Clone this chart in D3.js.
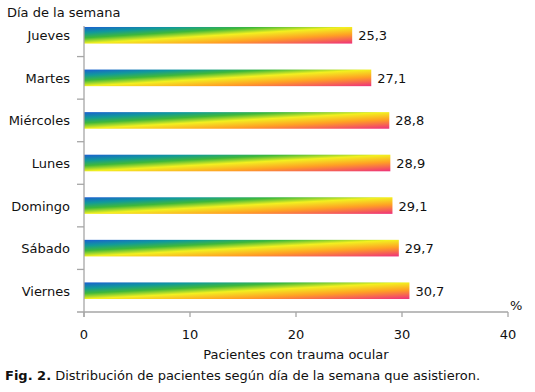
<!DOCTYPE html>
<html>
<head>
<meta charset="utf-8">
<script src="https://cdn.jsdelivr.net/npm/d3@7"></script>
<style>
  body { margin: 0; background: #fff; }
  text { font-family: "DejaVu Sans", Verdana, sans-serif; fill: #111; }
</style>
</head>
<body>
<div id="chart"></div>
<script>
// data
const dias = ["Jueves", "Martes", "Miércoles", "Lunes", "Domingo", "Sábado", "Viernes"];
const valores = [25.3, 27.1, 28.8, 28.9, 29.1, 29.7, 30.7];
const ticksX = [0, 10, 20, 30, 40];

const W = 535, H = 392;
const X0 = 84, X1 = 508, YTOP = 14, YBOT = 312;

const svg = d3.select("#chart").append("svg")
  .attr("width", W).attr("height", H);

// diagonal rainbow gradient, per bar
const grad = svg.append("defs").append("linearGradient")
  .attr("id", "arcoiris")
  .attr("x1", 0).attr("y1", 0).attr("x2", 1).attr("y2", 1);
[[0, "#1a5fd2"], [0.18, "#119a9a"], [0.33, "#3fb83a"], [0.5, "#f2f020"],
 [0.72, "#ffa024"], [1, "#ee2f7c"]].forEach(s => {
  grad.append("stop").attr("offset", s[0]).attr("stop-color", s[1]);
});

const x = d3.scaleLinear().domain([0, 40]).range([X0, X1]);
const y = d3.scaleBand().domain(dias).range([YTOP, YBOT]).paddingInner(0.61).paddingOuter(0.305);

const gris = "#a6a6a6";

// bars
svg.selectAll(".bar")
  .data(dias)
  .enter().append("rect")
  .attr("class", "bar")
  .attr("x", x(0))
  .attr("y", d => y(d))
  .attr("width", (d, i) => x(valores[i]) - x(0))
  .attr("height", y.bandwidth())
  .attr("fill", "url(#arcoiris)");

// value labels
svg.selectAll(".val")
  .data(dias)
  .enter().append("text")
  .attr("x", (d, i) => x(valores[i]) + 6)
  .attr("y", d => y(d) + y.bandwidth() / 2 + 5)
  .attr("font-size", 13)
  .text((d, i) => String(valores[i]).replace(".", ","));

// y axis line + ticks between categories
svg.append("line")
  .attr("x1", X0).attr("x2", X0).attr("y1", 26).attr("y2", YBOT + 5)
  .attr("stroke", gris).attr("stroke-width", 1.3);
const step = y.step();
const bordes = dias.slice(1).map(d => y(d) - (step - y.bandwidth()) / 2);
svg.selectAll(".ytick")
  .data(bordes)
  .enter().append("line")
  .attr("x1", X0 - 7).attr("x2", X0)
  .attr("y1", d => d).attr("y2", d => d)
  .attr("stroke", gris).attr("stroke-width", 1.3);
svg.selectAll(".ylab")
  .data(dias)
  .enter().append("text")
  .attr("x", 70)
  .attr("y", d => y(d) + y.bandwidth() / 2 + 5)
  .attr("text-anchor", "end")
  .attr("font-size", 13)
  .text(d => d);

// x axis
svg.append("line")
  .attr("x1", X0 - 7).attr("x2", X1).attr("y1", YBOT).attr("y2", YBOT)
  .attr("stroke", gris).attr("stroke-width", 1.3);
svg.selectAll(".xtick")
  .data(ticksX)
  .enter().append("line")
  .attr("x1", d => x(d)).attr("x2", d => x(d))
  .attr("y1", YBOT).attr("y2", YBOT + 5)
  .attr("stroke", gris).attr("stroke-width", 1.3);
svg.selectAll(".xlab")
  .data(ticksX)
  .enter().append("text")
  .attr("x", d => x(d))
  .attr("y", 339)
  .attr("text-anchor", "middle")
  .attr("font-size", 13)
  .text(d => d);

// titles
svg.append("text").attr("x", 7).attr("y", 17).attr("font-size", 13).text("Día de la semana");
svg.append("text").attr("x", 510).attr("y", 310).attr("font-size", 13).text("%");
svg.append("text").attr("x", 296).attr("y", 359).attr("text-anchor", "middle")
  .attr("font-size", 13).text("Pacientes con trauma ocular");

const cap = svg.append("text").attr("x", 5).attr("y", 380).attr("font-size", 13);
cap.append("tspan").attr("font-weight", "bold").text("Fig. 2.");
cap.append("tspan").text(" Distribución de pacientes según día de la semana que asistieron.");
</script>
</body>
</html>
